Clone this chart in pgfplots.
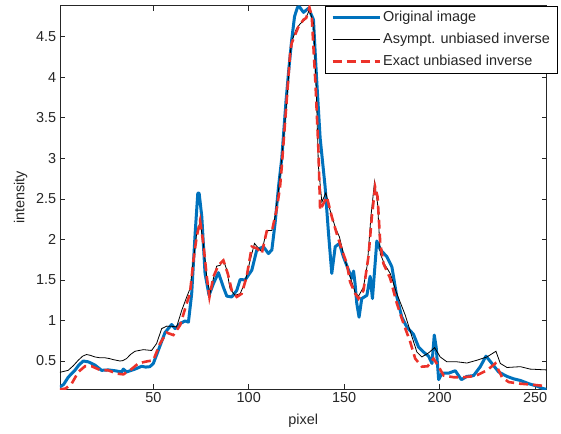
\documentclass[border=0pt]{standalone}
\usepackage{fontspec}
\setmainfont{Liberation Sans}
\usepackage{pgfplots}
\pgfplotsset{compat=1.18}
\definecolor{mblue}{RGB}{0,114,189}
\definecolor{mred}{RGB}{236,50,42}
\definecolor{axgray}{RGB}{38,38,38}
\newcommand{\figfont}{\fontsize{14.5}{16}\selectfont}

\begin{document}
\begin{tikzpicture}
\begin{axis}[
    name=ax,
    scale only axis,
    width=486.7bp, height=383.6bp,
    xmin=1, xmax=256, ymin=0.151, ymax=4.882,
    xtick={50,100,...,250},
    ytick={0.5,1,...,4.5},
    tick align=inside,
    major tick length=5bp,
    axis line style={axgray, line width=0.6bp},
    tick style={axgray, line width=0.6bp},
    every tick label/.append style={font=\figfont, text=axgray},
    /pgf/number format/assume math mode=true,
    xlabel={pixel}, ylabel={intensity},
    label style={font=\figfont, text=axgray},
    xlabel style={yshift=-4bp},
    ylabel style={yshift=2bp},
    legend cell align=left,
    legend style={at={(1,1)}, anchor=north east, xshift=11.2bp,
        draw=black, line width=0.6bp, fill=white, font=\figfont, text=axgray,
        inner xsep=5.5bp, inner ysep=3bp, row sep=4.5bp,
        nodes={inner sep=2bp, text height=10.5bp, text depth=3bp}},
    legend image code/.code={\draw[#1] (0bp,0bp) -- (47bp,0bp);},
]
% original image
\addplot[mblue, line width=3bp, line join=round] coordinates {
(1,0.18) (3,0.21) (5.4,0.30) (8.9,0.385) (11,0.45) (13.3,0.50) (15.9,0.49)
(19.4,0.45) (22.9,0.385) (26.4,0.39) (29.9,0.38) (33.4,0.365) (34.3,0.40)
(36,0.365) (40.4,0.40) (43.9,0.435) (46,0.425) (48.2,0.43) (50,0.47)
(52.6,0.63) (56.1,0.85) (59.6,0.95) (61.4,0.90) (64,0.96) (66.6,0.994)
(68.4,0.98) (70.1,1.33) (71.9,2.07) (73.3,2.57) (74,2.57) (75.4,2.28)
(77.1,1.58) (79.2,1.31) (81.5,1.455) (84.1,1.59) (86.7,1.41) (88.5,1.30)
(91.1,1.29) (93.7,1.37) (95.5,1.505) (98.1,1.50) (101.6,1.62) (104.2,1.87)
(107.7,1.91) (110.3,1.825) (112.1,1.87) (113.8,2.20) (115.6,2.65) (117.3,3.0)
(119.5,3.70) (121,4.10) (122.5,4.46) (124,4.75) (125.5,4.86) (126.5,4.87)
(128.7,4.80) (131.3,4.85) (133.9,4.71) (135.5,4.0) (137.4,3.25) (140,2.65)
(141.8,2.07) (143.5,1.58) (145.3,1.91) (147.5,1.95) (149.6,1.785) (152.3,1.62)
(154,1.52) (154.9,1.61) (155.7,1.455) (156.6,1.21) (157.8,1.04) (159.2,1.27)
(161.9,1.31) (163.6,1.545) (164.8,1.27) (166.2,1.70) (167.1,1.98) (168.9,1.875)
(172.4,1.785) (175,1.66) (177.6,1.29) (180.2,1.04) (182.8,0.92) (186.3,0.83)
(189,0.67) (191.6,0.61) (194.2,0.56) (196,0.47) (197.2,0.82) (198.2,0.67)
(199.5,0.27) (201.2,0.35) (204.7,0.35) (208.2,0.38) (211.4,0.27) (214.3,0.31)
(217.8,0.32) (221.3,0.43) (224.3,0.56) (227.4,0.47) (230.9,0.365) (235.3,0.31)
(238.8,0.28) (242.3,0.26) (246.7,0.22) (251,0.19) (254.2,0.16) (256,0.15)
};
\addlegendentry{Original image}
% asymptotically unbiased inverse
\addplot[black, line width=0.8bp] coordinates {
(1,0.36) (5.4,0.385) (8,0.44) (10.7,0.51) (13,0.56) (15,0.58) (17,0.57)
(19.4,0.55) (22,0.54) (24.6,0.54) (27,0.53) (29,0.517) (32.5,0.50) (34,0.505)
(36,0.53) (38,0.58) (40.4,0.62) (44.8,0.64) (49.1,0.63) (51.7,0.715)
(54.4,0.90) (57,0.93) (59.6,0.928) (62.2,0.92) (64.9,1.125) (67.5,1.29)
(69.2,1.39) (71,1.74) (72.7,2.07) (74.5,2.22) (76.2,1.95) (78,1.54)
(79.7,1.33) (81.5,1.52) (83.2,1.67) (85,1.68) (86.7,1.75) (88.5,1.62)
(90.2,1.39) (92.8,1.31) (95.5,1.33) (98.1,1.475) (100.7,1.74) (103,1.95)
(105.1,1.89) (106.8,1.85) (109.4,2.11) (112.1,2.11) (113.8,2.28) (115.6,2.61)
(117.5,3.05) (119.9,3.72) (121.7,4.28) (122.5,4.44) (125,4.60) (127,4.66)
(129.5,4.71) (131.8,4.83) (134,4.66) (135.3,3.9) (136.5,2.90) (138.3,2.46)
(140.4,2.575) (142.6,2.36) (145.3,2.15) (147.5,2.03) (150.5,1.74) (153.1,1.54)
(155.8,1.34) (157.5,1.30) (160.1,1.41) (162.2,1.70) (164,2.28) (165.9,2.71)
(167.5,2.44) (168.9,1.825) (171,1.70) (174.1,1.58) (177.6,1.33) (182,1.065)
(185.5,0.80) (188.1,0.61) (190.7,0.55) (194.2,0.60) (197.4,0.665) (200.3,0.55)
(203.8,0.49) (209.1,0.49) (214.3,0.475) (219.6,0.51) (224.8,0.55) (229.5,0.62)
(231.8,0.47) (235.3,0.42) (242.3,0.43) (247.5,0.40) (256,0.39)
};
\addlegendentry{Asympt. unbiased inverse}
% exact unbiased inverse
\addplot[mred, line width=2.6bp, dash pattern=on 9bp off 5bp] coordinates {
(1,0.15) (4,0.16) (7.2,0.22) (10.7,0.365) (14.2,0.435) (17.7,0.435) (22,0.39)
(26.4,0.385) (30.8,0.345) (34.3,0.335) (38.6,0.40) (42.1,0.47) (45.6,0.49)
(50,0.51) (53.5,0.715) (57,0.85) (60.5,0.82) (64,0.94) (67.5,1.21) (69.2,1.33)
(71,1.74) (72.7,2.03) (74.5,2.23) (76.2,1.95) (78,1.54) (79.4,1.29) (81.5,1.54)
(84.1,1.68) (86.7,1.74) (89,1.58) (91.1,1.37) (93.7,1.29) (96.3,1.33)
(98.9,1.54) (101.6,1.91) (104.2,1.89) (106.8,1.825) (109.4,2.10) (112.4,2.13)
(114.7,2.38) (116.4,2.65) (117.3,2.90) (119.9,3.72) (121.7,4.30) (122.5,4.42)
(126,4.62) (128.7,4.71) (130.1,4.73) (131.8,4.86) (133,4.75) (135,3.9)
(136.5,3.1) (137.4,2.36) (139.1,2.44) (140.9,2.525) (143.5,2.28) (146.1,2.07)
(148.8,1.87) (151.4,1.70) (153.1,1.475) (155.8,1.33) (157.5,1.27) (160.1,1.37)
(162.7,1.785) (164.5,2.28) (166.2,2.65) (167.5,2.525) (168.9,1.95) (170.6,1.70)
(174.1,1.52) (177.6,1.21) (181.1,0.96) (184.6,0.735) (187.2,0.53) (190.7,0.43)
(193.7,0.435) (196.8,0.53) (199.5,0.43) (202.1,0.32) (207.3,0.30) (212.6,0.30)
(218.7,0.315) (224.8,0.385) (229.2,0.47) (232.7,0.30) (236.2,0.24) (242.3,0.22)
(247.5,0.21) (256,0.19)
};
\addlegendentry{Exact unbiased inverse}
\end{axis}
\pgfresetboundingbox
\path (ax.south west) ++(-59.8bp,-44.7bp) rectangle ++(561bp,434bp);
\end{tikzpicture}
\end{document}
